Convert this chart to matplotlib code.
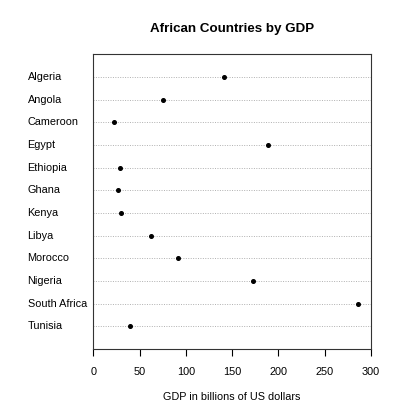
import matplotlib
matplotlib.use("Agg")
import matplotlib.pyplot as plt
from matplotlib.transforms import blended_transform_factory

plt.rcParams['font.family'] = ['Liberation Sans', 'DejaVu Sans']

countries = ['Algeria', 'Angola', 'Cameroon', 'Egypt', 'Ethiopia', 'Ghana',
             'Kenya', 'Libya', 'Morocco', 'Nigeria', 'South Africa', 'Tunisia']
gdp = [140.9, 75.2, 22.1, 188.7, 29.0, 26.4, 29.7, 62.6, 91.8, 172.8, 285.6, 40.1]
xticks = [0, 50, 100, 150, 200, 250, 300]

fig = plt.figure(figsize=(4.0, 4.17), dpi=100, facecolor='white')
ax = fig.add_axes([0.2333, 0.163, 0.6942, 0.7068])

n = len(countries)
ypos = list(range(n, 0, -1))
for y in ypos:
    ax.axhline(y, color='#b0b0b0', lw=0.7, ls=(0, (1, 1.5)), zorder=1)
ax.plot(gdp, ypos, 'o', color='black', markersize=2.6, zorder=3)

ax.set_xlim(0, 300)
ax.set_ylim(0, n + 1)
ax.set_xticks(xticks)
ax.set_xticklabels([str(t) for t in xticks], fontsize=7.8)
ax.set_yticks([])
for s in ax.spines.values():
    s.set_color('#333333')
    s.set_linewidth(0.8)
ax.tick_params(axis='x', length=5, width=0.8, pad=8, colors='black')

# country names, left aligned in the margin
trans = blended_transform_factory(fig.transFigure, ax.transData)
for y, c in zip(ypos, countries):
    ax.text(27.5 / 400, y, c, transform=trans, ha='left', va='center',
            fontsize=7.8, clip_on=False)

ax.set_title('African Countries by GDP', fontsize=9.6, fontweight='bold', pad=16)
ax.set_xlabel('GDP in billions of US dollars', fontsize=7.8, labelpad=11)

fig.savefig('out.png', dpi=100, facecolor='white')
